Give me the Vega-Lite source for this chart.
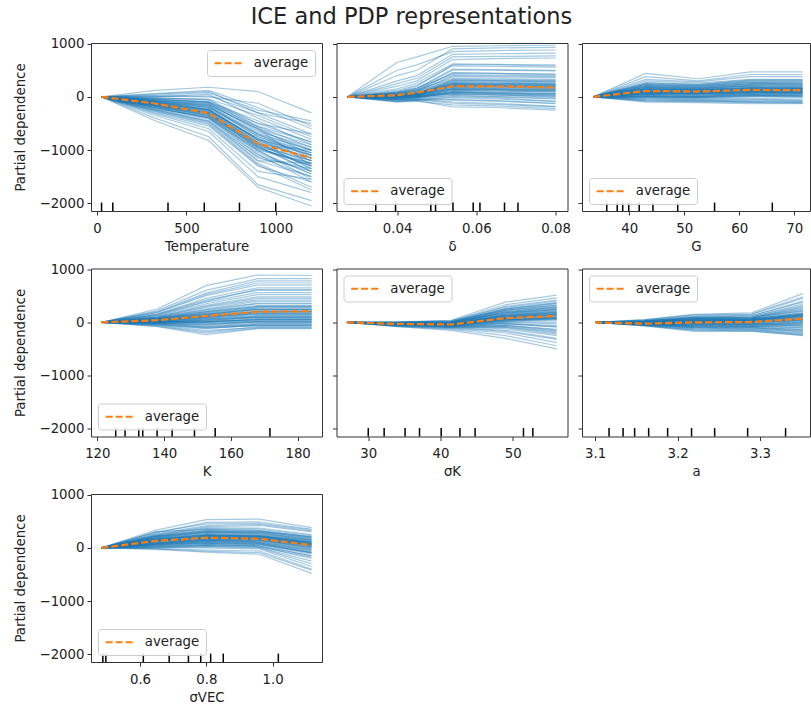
{
"$schema": "https://vega.github.io/schema/vega-lite/v6.json",
"background": "white",
"padding": {"left": 12, "top": 6, "right": 0, "bottom": 5},
"title": {"text": "ICE and PDP representations", "fontSize": 22.5, "font": "DejaVu Sans", "fontWeight": "normal", "anchor": "middle", "color": "#222", "offset": 7.5},
"datasets": {
"ice": [
{"f":"Temperature","x":25,"avg":0,"c1":0,"c2":0,"c3":0,"c4":0,"c5":0,"c6":0,"c7":0,"c8":0,"c9":0,"c10":0,"c11":0,"c12":0,"c13":0,"c14":0,"c15":0,"c16":0,"c17":0,"c18":0,"c19":0,"c20":0,"c21":0,"c22":0,"c23":0,"c24":0,"c25":0,"c26":0,"c27":0,"c28":0,"c29":0,"c30":0,"c31":0,"c32":0,"c33":0,"c34":0,"c35":0,"c36":0,"c37":0,"c38":0,"c39":0,"c40":0,"c41":0,"c42":0,"c43":0,"c44":0,"c45":0,"c46":0,"c47":0,"c48":0,"c49":0,"c50":0,"c51":0,"c52":0,"c53":0,"c54":0,"c55":0,"c56":0,"c57":0,"c58":0,"c59":0,"c60":0},
{"f":"Temperature","x":325,"avg":-125,"c1":-80,"c2":-150,"c3":-50,"c4":-200,"c5":50,"c6":-120,"c7":-300,"c8":-100,"c9":0,"c10":-250,"c11":-180,"c12":-60,"c13":-350,"c14":120,"c15":-140,"c16":-220,"c17":-90,"c18":-30,"c19":-400,"c20":-160,"c21":20,"c22":-110,"c23":-270,"c24":-70,"c25":-190,"c26":-40,"c27":-230,"c28":-130,"c29":-320,"c30":60,"c31":-150,"c32":-85,"c33":-200,"c34":-450,"c35":-20,"c36":-170,"c37":-100,"c38":-260,"c39":30,"c40":-120,"c41":-100,"c42":-140,"c43":-60,"c44":-180,"c45":-20,"c46":-210,"c47":-110,"c48":-160,"c49":-40,"c50":-240,"c51":-90,"c52":-130,"c53":-70,"c54":-200,"c55":-120,"c56":10,"c57":-170,"c58":-280,"c59":-50,"c60":-150},
{"f":"Temperature","x":625,"avg":-310,"c1":-150,"c2":-300,"c3":-100,"c4":-400,"c5":100,"c6":-250,"c7":-550,"c8":-200,"c9":50,"c10":-450,"c11":-350,"c12":-120,"c13":-650,"c14":180,"c15":-280,"c16":-380,"c17":-180,"c18":-60,"c19":-750,"c20":-320,"c21":0,"c22":-230,"c23":-500,"c24":-140,"c25":-360,"c26":-90,"c27":-420,"c28":-260,"c29":-600,"c30":120,"c31":-310,"c32":-170,"c33":-390,"c34":-820,"c35":-40,"c36":-330,"c37":-220,"c38":-480,"c39":80,"c40":-240,"c41":-200,"c42":-290,"c43":-130,"c44":-340,"c45":-50,"c46":-400,"c47":-240,"c48":-310,"c49":-110,"c50":-460,"c51":-190,"c52":-270,"c53":-160,"c54":-370,"c55":-250,"c56":20,"c57":-350,"c58":-520,"c59":-100,"c60":-290},
{"f":"Temperature","x":900,"avg":-880,"c1":-600,"c2":-900,"c3":-500,"c4":-1100,"c5":-300,"c6":-800,"c7":-1300,"c8":-700,"c9":-400,"c10":-1200,"c11":-950,"c12":-650,"c13":-1500,"c14":100,"c15":-850,"c16":-1000,"c17":-750,"c18":-550,"c19":-1650,"c20":-900,"c21":-120,"c22":-820,"c23":-1250,"c24":-600,"c25":-1050,"c26":-450,"c27":-1150,"c28":-780,"c29":-1400,"c30":-200,"c31":-980,"c32":-700,"c33":-1080,"c34":-1700,"c35":-350,"c36":-920,"c37":-800,"c38":-1200,"c39":-250,"c40":-870,"c41":-750,"c42":-880,"c43":-620,"c44":-960,"c45":-500,"c46":-1020,"c47":-820,"c48":-930,"c49":-560,"c50":-1130,"c51":-720,"c52":-850,"c53":-680,"c54":-1000,"c55":-790,"c56":-300,"c57":-940,"c58":-1280,"c59":-580,"c60":-900},
{"f":"Temperature","x":1200,"avg":-1150,"c1":-900,"c2":-1200,"c3":-700,"c4":-1400,"c5":-500,"c6":-1100,"c7":-1600,"c8":-1000,"c9":-800,"c10":-1500,"c11":-1300,"c12":-950,"c13":-1800,"c14":-300,"c15":-1150,"c16":-1250,"c17":-1050,"c18":-850,"c19":-1950,"c20":-1000,"c21":-550,"c22":-1200,"c23":-1700,"c24":-1300,"c25":-1450,"c26":-900,"c27":-1350,"c28":-1100,"c29":-1550,"c30":-600,"c31":-1250,"c32":-1150,"c33":-1600,"c34":-2050,"c35":-750,"c36":-1400,"c37":-1050,"c38":-1250,"c39":-450,"c40":-1350,"c41":-1100,"c42":-1250,"c43":-1000,"c44":-1300,"c45":-850,"c46":-1450,"c47":-1150,"c48":-1200,"c49":-950,"c50":-1500,"c51":-1050,"c52":-1350,"c53":-1000,"c54":-1550,"c55":-1200,"c56":-700,"c57":-1400,"c58":-1750,"c59":-1100,"c60":-1300},
{"f":"δ","x":0.0275,"avg":0,"c1":0,"c2":0,"c3":0,"c4":0,"c5":0,"c6":0,"c7":0,"c8":0,"c9":0,"c10":0,"c11":0,"c12":0,"c13":0,"c14":0,"c15":0,"c16":0,"c17":0,"c18":0,"c19":0,"c20":0,"c21":0,"c22":0,"c23":0,"c24":0,"c25":0,"c26":0,"c27":0,"c28":0,"c29":0,"c30":0,"c31":0,"c32":0,"c33":0,"c34":0,"c35":0,"c36":0,"c37":0,"c38":0,"c39":0,"c40":0,"c41":0,"c42":0,"c43":0,"c44":0,"c45":0,"c46":0,"c47":0,"c48":0,"c49":0,"c50":0,"c51":0,"c52":0,"c53":0,"c54":0,"c55":0,"c56":0,"c57":0,"c58":0,"c59":0,"c60":0},
{"f":"δ","x":0.04,"avg":30,"c1":0,"c2":-50,"c3":400,"c4":20,"c5":-80,"c6":100,"c7":30,"c8":-30,"c9":650,"c10":50,"c11":-60,"c12":10,"c13":200,"c14":-20,"c15":80,"c16":-100,"c17":40,"c18":0,"c19":300,"c20":60,"c21":-40,"c22":20,"c23":120,"c24":-70,"c25":10,"c26":500,"c27":-10,"c28":70,"c29":-90,"c30":30,"c31":150,"c32":-20,"c33":50,"c34":0,"c35":250,"c36":-50,"c37":90,"c38":10,"c39":-30,"c40":40,"c41":10,"c42":-30,"c43":40,"c44":0,"c45":60,"c46":-40,"c47":20,"c48":-10,"c49":70,"c50":30,"c51":-50,"c52":10,"c53":50,"c54":-20,"c55":40,"c56":0,"c57":90,"c58":-60,"c59":20,"c60":30},
{"f":"δ","x":0.045,"avg":80,"c1":50,"c2":-20,"c3":500,"c4":60,"c5":-60,"c6":200,"c7":40,"c8":0,"c9":750,"c10":100,"c11":-50,"c12":30,"c13":300,"c14":10,"c15":150,"c16":-80,"c17":70,"c18":20,"c19":400,"c20":120,"c21":-30,"c22":50,"c23":220,"c24":-60,"c25":40,"c26":600,"c27":20,"c28":130,"c29":-70,"c30":60,"c31":260,"c32":0,"c33":90,"c34":30,"c35":350,"c36":-40,"c37":170,"c38":40,"c39":-10,"c40":80,"c41":40,"c42":-10,"c43":80,"c44":20,"c45":110,"c46":-20,"c47":50,"c48":10,"c49":130,"c50":60,"c51":-40,"c52":30,"c53":100,"c54":0,"c55":70,"c56":20,"c57":160,"c58":-50,"c59":40,"c60":60},
{"f":"δ","x":0.054,"avg":200,"c1":300,"c2":100,"c3":900,"c4":250,"c5":0,"c6":600,"c7":150,"c8":50,"c9":950,"c10":400,"c11":-100,"c12":200,"c13":700,"c14":120,"c15":500,"c16":-150,"c17":280,"c18":80,"c19":800,"c20":450,"c21":20,"c22":180,"c23":580,"c24":-50,"c25":230,"c26":850,"c27":140,"c28":350,"c29":-190,"c30":260,"c31":620,"c32":60,"c33":320,"c34":160,"c35":750,"c36":-20,"c37":420,"c38":200,"c39":90,"c40":220,"c41":180,"c42":60,"c43":300,"c44":120,"c45":380,"c46":30,"c47":220,"c48":100,"c49":450,"c50":250,"c51":-60,"c52":160,"c53":330,"c54":80,"c55":270,"c56":140,"c57":520,"c58":-120,"c59":200,"c60":240},
{"f":"δ","x":0.065,"avg":195,"c1":300,"c2":90,"c3":920,"c4":240,"c5":-20,"c6":600,"c7":140,"c8":30,"c9":960,"c10":390,"c11":-120,"c12":200,"c13":720,"c14":110,"c15":500,"c16":-170,"c17":270,"c18":60,"c19":810,"c20":440,"c21":0,"c22":170,"c23":570,"c24":-70,"c25":220,"c26":870,"c27":130,"c28":340,"c29":-200,"c30":250,"c31":610,"c32":40,"c33":310,"c34":150,"c35":760,"c36":-40,"c37":410,"c38":190,"c39":70,"c40":210,"c41":170,"c42":40,"c43":290,"c44":110,"c45":370,"c46":10,"c47":210,"c48":80,"c49":440,"c50":240,"c51":-80,"c52":150,"c53":320,"c54":60,"c55":260,"c56":130,"c57":510,"c58":-140,"c59":190,"c60":230},
{"f":"δ","x":0.08,"avg":175,"c1":280,"c2":60,"c3":930,"c4":230,"c5":-80,"c6":580,"c7":120,"c8":-10,"c9":970,"c10":380,"c11":-180,"c12":190,"c13":730,"c14":100,"c15":490,"c16":-220,"c17":260,"c18":40,"c19":820,"c20":430,"c21":-40,"c22":160,"c23":560,"c24":-120,"c25":210,"c26":880,"c27":110,"c28":330,"c29":-250,"c30":240,"c31":600,"c32":20,"c33":300,"c34":140,"c35":770,"c36":-90,"c37":400,"c38":170,"c39":50,"c40":200,"c41":150,"c42":10,"c43":280,"c44":90,"c45":360,"c46":-30,"c47":190,"c48":60,"c49":420,"c50":230,"c51":-130,"c52":130,"c53":310,"c54":30,"c55":250,"c56":120,"c57":500,"c58":-190,"c59":180,"c60":210},
{"f":"G","x":33.45,"avg":0,"c1":0,"c2":0,"c3":0,"c4":0,"c5":0,"c6":0,"c7":0,"c8":0,"c9":0,"c10":0,"c11":0,"c12":0,"c13":0,"c14":0,"c15":0,"c16":0,"c17":0,"c18":0,"c19":0,"c20":0,"c21":0,"c22":0,"c23":0,"c24":0,"c25":0,"c26":0,"c27":0,"c28":0,"c29":0,"c30":0,"c31":0,"c32":0,"c33":0,"c34":0,"c35":0,"c36":0,"c37":0,"c38":0,"c39":0,"c40":0,"c41":0,"c42":0,"c43":0,"c44":0,"c45":0,"c46":0,"c47":0,"c48":0,"c49":0,"c50":0,"c51":0,"c52":0,"c53":0,"c54":0,"c55":0,"c56":0,"c57":0,"c58":0,"c59":0,"c60":0},
{"f":"G","x":43,"avg":110,"c1":100,"c2":440,"c3":50,"c4":200,"c5":-50,"c6":150,"c7":0,"c8":300,"c9":80,"c10":-100,"c11":120,"c12":250,"c13":30,"c14":180,"c15":-20,"c16":380,"c17":60,"c18":130,"c19":-70,"c20":220,"c21":10,"c22":160,"c23":90,"c24":270,"c25":-30,"c26":110,"c27":40,"c28":190,"c29":70,"c30":330,"c31":-10,"c32":140,"c33":20,"c34":240,"c35":100,"c36":-60,"c37":170,"c38":60,"c39":120,"c40":210,"c41":80,"c42":150,"c43":20,"c44":200,"c45":-40,"c46":110,"c47":60,"c48":260,"c49":0,"c50":170,"c51":90,"c52":-80,"c53":130,"c54":40,"c55":230,"c56":100,"c57":10,"c58":180,"c59":70,"c60":140},
{"f":"G","x":52.5,"avg":100,"c1":90,"c2":340,"c3":40,"c4":180,"c5":-60,"c6":130,"c7":-10,"c8":260,"c9":70,"c10":-110,"c11":110,"c12":220,"c13":20,"c14":160,"c15":-30,"c16":300,"c17":60,"c18":120,"c19":-80,"c20":200,"c21":0,"c22":140,"c23":80,"c24":240,"c25":-40,"c26":100,"c27":30,"c28":170,"c29":60,"c30":280,"c31":-20,"c32":130,"c33":10,"c34":210,"c35":95,"c36":-70,"c37":150,"c38":50,"c39":110,"c40":190,"c41":70,"c42":130,"c43":10,"c44":180,"c45":-50,"c46":100,"c47":50,"c48":230,"c49":-10,"c50":150,"c51":80,"c52":-90,"c53":120,"c54":30,"c55":200,"c56":90,"c57":0,"c58":160,"c59":60,"c60":125},
{"f":"G","x":62,"avg":130,"c1":120,"c2":470,"c3":80,"c4":250,"c5":-80,"c6":170,"c7":20,"c8":330,"c9":100,"c10":-130,"c11":150,"c12":300,"c13":50,"c14":210,"c15":-30,"c16":420,"c17":90,"c18":160,"c19":-100,"c20":270,"c21":30,"c22":180,"c23":110,"c24":320,"c25":-50,"c26":140,"c27":60,"c28":230,"c29":90,"c30":380,"c31":0,"c32":170,"c33":40,"c34":280,"c35":130,"c36":-90,"c37":200,"c38":70,"c39":140,"c40":250,"c41":100,"c42":180,"c43":40,"c44":240,"c45":-60,"c46":130,"c47":80,"c48":300,"c49":10,"c50":200,"c51":110,"c52":-110,"c53":150,"c54":60,"c55":270,"c56":120,"c57":25,"c58":215,"c59":90,"c60":160},
{"f":"G","x":71.5,"avg":125,"c1":115,"c2":470,"c3":75,"c4":250,"c5":-90,"c6":165,"c7":10,"c8":330,"c9":95,"c10":-130,"c11":145,"c12":300,"c13":40,"c14":205,"c15":-40,"c16":420,"c17":85,"c18":160,"c19":-110,"c20":265,"c21":25,"c22":175,"c23":105,"c24":320,"c25":-60,"c26":130,"c27":55,"c28":225,"c29":80,"c30":380,"c31":-10,"c32":165,"c33":35,"c34":280,"c35":120,"c36":-100,"c37":195,"c38":65,"c39":140,"c40":245,"c41":95,"c42":175,"c43":35,"c44":235,"c45":-70,"c46":125,"c47":75,"c48":300,"c49":5,"c50":195,"c51":105,"c52":-120,"c53":145,"c54":55,"c55":265,"c56":115,"c57":20,"c58":210,"c59":85,"c60":155},
{"f":"K","x":121.2,"avg":0,"c1":0,"c2":0,"c3":0,"c4":0,"c5":0,"c6":0,"c7":0,"c8":0,"c9":0,"c10":0,"c11":0,"c12":0,"c13":0,"c14":0,"c15":0,"c16":0,"c17":0,"c18":0,"c19":0,"c20":0,"c21":0,"c22":0,"c23":0,"c24":0,"c25":0,"c26":0,"c27":0,"c28":0,"c29":0,"c30":0,"c31":0,"c32":0,"c33":0,"c34":0,"c35":0,"c36":0,"c37":0,"c38":0,"c39":0,"c40":0,"c41":0,"c42":0,"c43":0,"c44":0,"c45":0,"c46":0,"c47":0,"c48":0,"c49":0,"c50":0,"c51":0,"c52":0,"c53":0,"c54":0,"c55":0,"c56":0,"c57":0,"c58":0,"c59":0,"c60":0},
{"f":"K","x":138,"avg":40,"c1":50,"c2":250,"c3":-50,"c4":100,"c5":0,"c6":180,"c7":-20,"c8":70,"c9":150,"c10":-80,"c11":30,"c12":200,"c13":10,"c14":120,"c15":-40,"c16":60,"c17":220,"c18":20,"c19":-60,"c20":90,"c21":40,"c22":160,"c23":-10,"c24":80,"c25":0,"c26":130,"c27":-30,"c28":50,"c29":110,"c30":25,"c31":-70,"c32":140,"c33":15,"c34":70,"c35":-15,"c36":190,"c37":35,"c38":-45,"c39":100,"c40":5,"c41":30,"c42":0,"c43":60,"c44":-20,"c45":40,"c46":10,"c47":80,"c48":-40,"c49":20,"c50":50,"c51":0,"c52":70,"c53":-30,"c54":30,"c55":15,"c56":90,"c57":-10,"c58":45,"c59":5,"c60":60},
{"f":"K","x":152.5,"avg":120,"c1":150,"c2":690,"c3":-150,"c4":300,"c5":50,"c6":500,"c7":-50,"c8":200,"c9":450,"c10":-230,"c11":100,"c12":550,"c13":20,"c14":350,"c15":-100,"c16":180,"c17":600,"c18":80,"c19":-180,"c20":250,"c21":120,"c22":420,"c23":-30,"c24":220,"c25":0,"c26":380,"c27":-80,"c28":140,"c29":320,"c30":60,"c31":-200,"c32":400,"c33":40,"c34":190,"c35":-40,"c36":520,"c37":110,"c38":-120,"c39":280,"c40":10,"c41":80,"c42":20,"c43":150,"c44":-60,"c45":100,"c46":30,"c47":200,"c48":-110,"c49":60,"c50":130,"c51":0,"c52":170,"c53":-90,"c54":90,"c55":40,"c56":240,"c57":-20,"c58":120,"c59":10,"c60":160},
{"f":"K","x":168,"avg":200,"c1":250,"c2":890,"c3":-100,"c4":450,"c5":100,"c6":700,"c7":0,"c8":320,"c9":650,"c10":-120,"c11":180,"c12":780,"c13":50,"c14":520,"c15":-60,"c16":280,"c17":820,"c18":130,"c19":-80,"c20":400,"c21":200,"c22":600,"c23":20,"c24":350,"c25":60,"c26":560,"c27":-30,"c28":230,"c29":480,"c30":110,"c31":-110,"c32":620,"c33":90,"c34":300,"c35":10,"c36":740,"c37":160,"c38":-50,"c39":420,"c40":40,"c41":150,"c42":60,"c43":250,"c44":-20,"c45":180,"c46":80,"c47":300,"c48":-60,"c49":120,"c50":210,"c51":30,"c52":270,"c53":-40,"c54":160,"c55":100,"c56":360,"c57":10,"c58":200,"c59":50,"c60":240},
{"f":"K","x":184.2,"avg":210,"c1":250,"c2":880,"c3":-100,"c4":450,"c5":100,"c6":700,"c7":0,"c8":320,"c9":650,"c10":-120,"c11":180,"c12":780,"c13":50,"c14":520,"c15":-60,"c16":280,"c17":820,"c18":130,"c19":-80,"c20":400,"c21":200,"c22":600,"c23":20,"c24":350,"c25":60,"c26":560,"c27":-30,"c28":230,"c29":480,"c30":110,"c31":-110,"c32":620,"c33":90,"c34":300,"c35":10,"c36":740,"c37":160,"c38":-50,"c39":420,"c40":40,"c41":150,"c42":60,"c43":250,"c44":-20,"c45":180,"c46":80,"c47":300,"c48":-60,"c49":120,"c50":210,"c51":30,"c52":270,"c53":-40,"c54":160,"c55":100,"c56":360,"c57":10,"c58":200,"c59":50,"c60":240},
{"f":"σK","x":27.05,"avg":0,"c1":0,"c2":0,"c3":0,"c4":0,"c5":0,"c6":0,"c7":0,"c8":0,"c9":0,"c10":0,"c11":0,"c12":0,"c13":0,"c14":0,"c15":0,"c16":0,"c17":0,"c18":0,"c19":0,"c20":0,"c21":0,"c22":0,"c23":0,"c24":0,"c25":0,"c26":0,"c27":0,"c28":0,"c29":0,"c30":0,"c31":0,"c32":0,"c33":0,"c34":0,"c35":0,"c36":0,"c37":0,"c38":0,"c39":0,"c40":0,"c41":0,"c42":0,"c43":0,"c44":0,"c45":0,"c46":0,"c47":0,"c48":0,"c49":0,"c50":0,"c51":0,"c52":0,"c53":0,"c54":0,"c55":0,"c56":0,"c57":0,"c58":0,"c59":0,"c60":0},
{"f":"σK","x":34,"avg":-30,"c1":-20,"c2":-40,"c3":0,"c4":-60,"c5":-10,"c6":-30,"c7":-80,"c8":-20,"c9":10,"c10":-50,"c11":-30,"c12":-15,"c13":-70,"c14":-25,"c15":0,"c16":-45,"c17":-35,"c18":-5,"c19":-55,"c20":-20,"c21":-40,"c22":5,"c23":-65,"c24":-30,"c25":-10,"c26":-50,"c27":-25,"c28":-35,"c29":-15,"c30":-60,"c31":-20,"c32":-45,"c33":0,"c34":-30,"c35":-75,"c36":-10,"c37":-40,"c38":-20,"c39":-50,"c40":-5,"c41":-20,"c42":-30,"c43":-10,"c44":-40,"c45":-25,"c46":-15,"c47":-35,"c48":-20,"c49":-45,"c50":-10,"c51":-30,"c52":-25,"c53":-50,"c54":-15,"c55":-35,"c56":-20,"c57":-5,"c58":-40,"c59":-25,"c60":-30},
{"f":"σK","x":41.5,"avg":-40,"c1":-30,"c2":-60,"c3":20,"c4":-100,"c5":0,"c6":-50,"c7":-150,"c8":-20,"c9":40,"c10":-80,"c11":-40,"c12":-10,"c13":-120,"c14":-35,"c15":30,"c16":-70,"c17":-50,"c18":10,"c19":-90,"c20":-25,"c21":-55,"c22":30,"c23":-110,"c24":-45,"c25":0,"c26":-75,"c27":-30,"c28":-60,"c29":-5,"c30":-95,"c31":-30,"c32":-65,"c33":15,"c34":-40,"c35":-130,"c36":-10,"c37":-50,"c38":-20,"c39":-85,"c40":5,"c41":-30,"c42":-40,"c43":0,"c44":-60,"c45":-30,"c46":-10,"c47":-50,"c48":-20,"c49":-70,"c50":5,"c51":-45,"c52":-35,"c53":-80,"c54":-10,"c55":-55,"c56":-25,"c57":10,"c58":-60,"c59":-30,"c60":-40},
{"f":"σK","x":49,"avg":80,"c1":100,"c2":50,"c3":300,"c4":-150,"c5":200,"c6":20,"c7":-300,"c8":150,"c9":380,"c10":-80,"c11":80,"c12":180,"c13":-200,"c14":110,"c15":330,"c16":-20,"c17":60,"c18":250,"c19":-120,"c20":140,"c21":30,"c22":280,"c23":-170,"c24":90,"c25":220,"c26":-50,"c27":130,"c28":40,"c29":190,"c30":-100,"c31":120,"c32":0,"c33":260,"c34":70,"c35":-250,"c36":160,"c37":50,"c38":100,"c39":-60,"c40":230,"c41":90,"c42":40,"c43":170,"c44":-30,"c45":120,"c46":200,"c47":20,"c48":140,"c49":-60,"c50":230,"c51":60,"c52":100,"c53":-90,"c54":180,"c55":10,"c56":130,"c57":250,"c58":-20,"c59":80,"c60":50},
{"f":"σK","x":56.1,"avg":120,"c1":150,"c2":80,"c3":420,"c4":-300,"c5":280,"c6":50,"c7":-500,"c8":220,"c9":510,"c10":-180,"c11":130,"c12":250,"c13":-380,"c14":170,"c15":460,"c16":-90,"c17":100,"c18":350,"c19":-250,"c20":200,"c21":60,"c22":400,"c23":-320,"c24":140,"c25":300,"c26":-130,"c27":190,"c28":70,"c29":270,"c30":-220,"c31":180,"c32":-30,"c33":370,"c34":110,"c35":-440,"c36":240,"c37":90,"c38":160,"c39":-160,"c40":320,"c41":140,"c42":70,"c43":240,"c44":-80,"c45":180,"c46":290,"c47":30,"c48":210,"c49":-140,"c50":330,"c51":100,"c52":150,"c53":-200,"c54":260,"c55":0,"c56":190,"c57":360,"c58":-60,"c59":120,"c60":80},
{"f":"a","x":3.1,"avg":0,"c1":0,"c2":0,"c3":0,"c4":0,"c5":0,"c6":0,"c7":0,"c8":0,"c9":0,"c10":0,"c11":0,"c12":0,"c13":0,"c14":0,"c15":0,"c16":0,"c17":0,"c18":0,"c19":0,"c20":0,"c21":0,"c22":0,"c23":0,"c24":0,"c25":0,"c26":0,"c27":0,"c28":0,"c29":0,"c30":0,"c31":0,"c32":0,"c33":0,"c34":0,"c35":0,"c36":0,"c37":0,"c38":0,"c39":0,"c40":0,"c41":0,"c42":0,"c43":0,"c44":0,"c45":0,"c46":0,"c47":0,"c48":0,"c49":0,"c50":0,"c51":0,"c52":0,"c53":0,"c54":0,"c55":0,"c56":0,"c57":0,"c58":0,"c59":0,"c60":0},
{"f":"a","x":3.16,"avg":-25,"c1":-20,"c2":50,"c3":-60,"c4":10,"c5":-40,"c6":30,"c7":-10,"c8":-50,"c9":20,"c10":-30,"c11":0,"c12":-45,"c13":40,"c14":-15,"c15":-35,"c16":15,"c17":-55,"c18":5,"c19":-25,"c20":25,"c21":-65,"c22":-5,"c23":35,"c24":-40,"c25":10,"c26":-20,"c27":45,"c28":-50,"c29":0,"c30":-30,"c31":20,"c32":-10,"c33":-45,"c34":15,"c35":-35,"c36":30,"c37":-60,"c38":5,"c39":-20,"c40":10,"c41":-10,"c42":-30,"c43":20,"c44":-40,"c45":0,"c46":-20,"c47":10,"c48":-50,"c49":15,"c50":-25,"c51":5,"c52":-35,"c53":25,"c54":-15,"c55":-45,"c56":10,"c57":-5,"c58":-30,"c59":0,"c60":-20},
{"f":"a","x":3.22,"avg":0,"c1":0,"c2":150,"c3":-150,"c4":60,"c5":-80,"c6":100,"c7":20,"c8":-120,"c9":80,"c10":-40,"c11":40,"c12":-100,"c13":120,"c14":10,"c15":-60,"c16":70,"c17":-130,"c18":30,"c19":-20,"c20":90,"c21":-170,"c22":15,"c23":110,"c24":-70,"c25":50,"c26":-10,"c27":140,"c28":-110,"c29":25,"c30":-50,"c31":75,"c32":5,"c33":-90,"c34":55,"c35":-30,"c36":95,"c37":-140,"c38":35,"c39":-35,"c40":45,"c41":10,"c42":-40,"c43":70,"c44":-70,"c45":30,"c46":-20,"c47":50,"c48":-100,"c49":40,"c50":-30,"c51":35,"c52":-60,"c53":80,"c54":0,"c55":-85,"c56":45,"c57":20,"c58":-50,"c59":25,"c60":-10},
{"f":"a","x":3.29,"avg":5,"c1":10,"c2":180,"c3":-160,"c4":70,"c5":-80,"c6":120,"c7":30,"c8":-130,"c9":90,"c10":-40,"c11":50,"c12":-110,"c13":150,"c14":20,"c15":-60,"c16":80,"c17":-140,"c18":40,"c19":-10,"c20":100,"c21":-170,"c22":25,"c23":130,"c24":-70,"c25":60,"c26":0,"c27":160,"c28":-120,"c29":35,"c30":-45,"c31":85,"c32":15,"c33":-95,"c34":65,"c35":-25,"c36":110,"c37":-150,"c38":45,"c39":-30,"c40":55,"c41":20,"c42":-35,"c43":80,"c44":-75,"c45":40,"c46":-15,"c47":60,"c48":-105,"c49":50,"c50":-25,"c51":45,"c52":-60,"c53":95,"c54":10,"c55":-90,"c56":55,"c57":30,"c58":-45,"c59":35,"c60":0},
{"f":"a","x":3.352,"avg":70,"c1":100,"c2":540,"c3":-250,"c4":250,"c5":-50,"c6":400,"c7":150,"c8":-200,"c9":300,"c10":0,"c11":200,"c12":-150,"c13":450,"c14":80,"c15":-20,"c16":280,"c17":-230,"c18":120,"c19":50,"c20":350,"c21":-240,"c22":60,"c23":380,"c24":-100,"c25":180,"c26":30,"c27":480,"c28":-180,"c29":130,"c30":-60,"c31":220,"c32":40,"c33":-130,"c34":160,"c35":10,"c36":320,"c37":-210,"c38":110,"c39":-40,"c40":140,"c41":90,"c42":-20,"c43":220,"c44":-110,"c45":130,"c46":30,"c47":170,"c48":-170,"c49":150,"c50":10,"c51":120,"c52":-80,"c53":260,"c54":60,"c55":-140,"c56":160,"c57":100,"c58":-50,"c59":110,"c60":50},
{"f":"σVEC","x":0.484,"avg":0,"c1":0,"c2":0,"c3":0,"c4":0,"c5":0,"c6":0,"c7":0,"c8":0,"c9":0,"c10":0,"c11":0,"c12":0,"c13":0,"c14":0,"c15":0,"c16":0,"c17":0,"c18":0,"c19":0,"c20":0,"c21":0,"c22":0,"c23":0,"c24":0,"c25":0,"c26":0,"c27":0,"c28":0,"c29":0,"c30":0,"c31":0,"c32":0,"c33":0,"c34":0,"c35":0,"c36":0,"c37":0,"c38":0,"c39":0,"c40":0,"c41":0,"c42":0,"c43":0,"c44":0,"c45":0,"c46":0,"c47":0,"c48":0,"c49":0,"c50":0,"c51":0,"c52":0,"c53":0,"c54":0,"c55":0,"c56":0,"c57":0,"c58":0,"c59":0,"c60":0},
{"f":"σVEC","x":0.645,"avg":130,"c1":100,"c2":330,"c3":-30,"c4":200,"c5":50,"c6":250,"c7":0,"c8":150,"c9":280,"c10":20,"c11":120,"c12":300,"c13":-10,"c14":180,"c15":70,"c16":230,"c17":30,"c18":140,"c19":90,"c20":260,"c21":10,"c22":160,"c23":60,"c24":210,"c25":40,"c26":130,"c27":290,"c28":80,"c29":170,"c30":-20,"c31":110,"c32":220,"c33":55,"c34":190,"c35":25,"c36":240,"c37":120,"c38":75,"c39":150,"c40":15,"c41":120,"c42":160,"c43":80,"c44":200,"c45":140,"c46":60,"c47":180,"c48":100,"c49":220,"c50":130,"c51":40,"c52":170,"c53":90,"c54":150,"c55":190,"c56":110,"c57":70,"c58":210,"c59":130,"c60":160},
{"f":"σVEC","x":0.8,"avg":190,"c1":150,"c2":530,"c3":-80,"c4":300,"c5":100,"c6":400,"c7":20,"c8":220,"c9":480,"c10":50,"c11":180,"c12":350,"c13":-40,"c14":260,"c15":120,"c16":380,"c17":60,"c18":200,"c19":170,"c20":420,"c21":0,"c22":240,"c23":110,"c24":320,"c25":80,"c26":190,"c27":450,"c28":140,"c29":250,"c30":-60,"c31":160,"c32":340,"c33":90,"c34":280,"c35":30,"c36":360,"c37":210,"c38":130,"c39":230,"c40":40,"c41":190,"c42":240,"c43":130,"c44":300,"c45":200,"c46":90,"c47":270,"c48":160,"c49":330,"c50":180,"c51":60,"c52":250,"c53":140,"c54":220,"c55":290,"c56":170,"c57":110,"c58":310,"c59":200,"c60":230},
{"f":"σVEC","x":0.96,"avg":170,"c1":140,"c2":540,"c3":-120,"c4":280,"c5":80,"c6":420,"c7":0,"c8":200,"c9":490,"c10":30,"c11":170,"c12":330,"c13":-60,"c14":240,"c15":100,"c16":370,"c17":40,"c18":190,"c19":150,"c20":440,"c21":-20,"c22":220,"c23":90,"c24":300,"c25":60,"c26":180,"c27":460,"c28":120,"c29":230,"c30":-90,"c31":150,"c32":320,"c33":70,"c34":260,"c35":10,"c36":350,"c37":200,"c38":110,"c39":210,"c40":20,"c41":180,"c42":220,"c43":110,"c44":280,"c45":190,"c46":70,"c47":250,"c48":150,"c49":310,"c50":170,"c51":40,"c52":230,"c53":130,"c54":210,"c55":270,"c56":160,"c57":90,"c58":300,"c59":180,"c60":220},
{"f":"σVEC","x":1.117,"avg":50,"c1":0,"c2":380,"c3":-480,"c4":150,"c5":-100,"c6":300,"c7":-300,"c8":80,"c9":350,"c10":-200,"c11":50,"c12":200,"c13":-400,"c14":120,"c15":-50,"c16":250,"c17":-150,"c18":60,"c19":20,"c20":320,"c21":-350,"c22":100,"c23":-80,"c24":180,"c25":-120,"c26":40,"c27":340,"c28":-20,"c29":110,"c30":-420,"c31":30,"c32":200,"c33":-90,"c34":140,"c35":-250,"c36":230,"c37":90,"c38":-40,"c39":70,"c40":-180,"c41":60,"c42":110,"c43":-30,"c44":170,"c45":80,"c46":-90,"c47":140,"c48":20,"c49":210,"c50":50,"c51":-150,"c52":120,"c53":0,"c54":90,"c55":160,"c56":40,"c57":-60,"c58":190,"c59":70,"c60":100},
{"f":"Temperature","r":25},{"f":"Temperature","r":88},{"f":"Temperature","r":397},{"f":"Temperature","r":600},{"f":"Temperature","r":797},{"f":"Temperature","r":1000},
{"f":"δ","r":0.0346},{"f":"δ","r":0.0396},{"f":"δ","r":0.0485},{"f":"δ","r":0.0497},{"f":"δ","r":0.0541},{"f":"δ","r":0.0592},{"f":"δ","r":0.0609},{"f":"δ","r":0.0671},{"f":"δ","r":0.0705},
{"f":"G","r":35.9},{"f":"G","r":37.8},{"f":"G","r":38.8},{"f":"G","r":39.9},{"f":"G","r":41.8},{"f":"G","r":44.3},{"f":"G","r":48.8},{"f":"G","r":55.5},{"f":"G","r":66.0},
{"f":"K","r":125.5},{"f":"K","r":128.3},{"f":"K","r":132.4},{"f":"K","r":133.6},{"f":"K","r":137.9},{"f":"K","r":142.4},{"f":"K","r":149.1},{"f":"K","r":155.3},{"f":"K","r":171.7},
{"f":"σK","r":30.0},{"f":"σK","r":32.2},{"f":"σK","r":35.1},{"f":"σK","r":37.1},{"f":"σK","r":40.1},{"f":"σK","r":42.7},{"f":"σK","r":44.8},{"f":"σK","r":51.5},{"f":"σK","r":52.8},
{"f":"a","r":3.117},{"f":"a","r":3.134},{"f":"a","r":3.148},{"f":"a","r":3.165},{"f":"a","r":3.188},{"f":"a","r":3.217},{"f":"a","r":3.245},{"f":"a","r":3.285},{"f":"a","r":3.331},
{"f":"σVEC","r":0.488},{"f":"σVEC","r":0.497},{"f":"σVEC","r":0.61},{"f":"σVEC","r":0.688},{"f":"σVEC","r":0.746},{"f":"σVEC","r":0.783},{"f":"σVEC","r":0.813},{"f":"σVEC","r":0.851},{"f":"σVEC","r":1.017}
]
},
"data": {"name": "ice"},
"transform": [{"fold": ["c1","c2","c3","c4","c5","c6","c7","c8","c9","c10","c11","c12","c13","c14","c15","c16","c17","c18","c19","c20","c21","c22","c23","c24","c25","c26","c27","c28","c29","c30","c31","c32","c33","c34","c35","c36","c37","c38","c39","c40","c41","c42","c43","c44","c45","c46","c47","c48","c49","c50","c51","c52","c53","c54","c55","c56","c57","c58","c59","c60","avg"], "as": ["curve","pd"]}],
"columns": 3,
"bounds": "flush",
"spacing": {"row": 57.5, "column": 14.5},
"concat": [
{"width": 231, "height": 168,
 "transform": [{"filter": {"field": "f", "equal": "Temperature"}}],
 "encoding": {"x": {"field": "x", "type": "quantitative", "scale": {"domain": [-34, 1259], "nice": false, "zero": false}, "axis": {"title": "Temperature", "values": [0, 500, 1000], "format": "d"}}},
 "layer": [
  {"transform": [{"filter": "datum.curve != 'avg' && isValid(datum.x)"}], "mark": {"type": "line", "color": "#1f77b4", "opacity": 0.4, "strokeWidth": 1.2}, "encoding": {"y": {"field": "pd", "type": "quantitative", "scale": {"domain": [-2145, 1012], "nice": false, "zero": false}, "axis": {"title": "Partial dependence", "values": [-2000, -1000, 0, 1000], "format": "d"}}, "detail": {"field": "curve"}}},
  {"transform": [{"filter": "datum.curve == 'avg' && isValid(datum.x)"}], "mark": {"type": "line", "strokeDash": [7, 3], "strokeWidth": 2.2}, "encoding": {"y": {"field": "pd", "type": "quantitative", "axis": {"title": "Partial dependence", "values": [-2000, -1000, 0, 1000], "format": "d"}}, "color": {"datum": "average", "type": "nominal", "scale": {"range": ["#ff7f0e"]}, "legend": {"title": null, "orient": "top-right"}}}},
  {"transform": [{"filter": "datum.curve == 'c1' && isValid(datum.r)"}], "mark": {"type": "rule", "color": "#000", "strokeWidth": 1.5}, "encoding": {"x": {"field": "r", "type": "quantitative"}, "y": {"datum": -2145, "type": "quantitative"}, "y2": {"datum": -1987}}}
 ]},
{"width": 231, "height": 168,
 "transform": [{"filter": {"field": "f", "equal": "δ"}}],
 "encoding": {"x": {"field": "x", "type": "quantitative", "scale": {"domain": [0.0247, 0.083], "nice": false, "zero": false}, "axis": {"title": "δ", "values": [0.04, 0.06, 0.08], "format": ".2f"}}},
 "layer": [
  {"transform": [{"filter": "datum.curve != 'avg' && isValid(datum.x)"}], "mark": {"type": "line", "color": "#1f77b4", "opacity": 0.4, "strokeWidth": 1.2}, "encoding": {"y": {"field": "pd", "type": "quantitative", "scale": {"domain": [-2145, 1012], "nice": false, "zero": false}, "axis": {"title": null, "labels": false, "values": [-2000, -1000, 0, 1000]}}, "detail": {"field": "curve"}}},
  {"transform": [{"filter": "datum.curve == 'avg' && isValid(datum.x)"}], "mark": {"type": "line", "strokeDash": [7, 3], "strokeWidth": 2.2}, "encoding": {"y": {"field": "pd", "type": "quantitative", "axis": {"title": null, "labels": false, "values": [-2000, -1000, 0, 1000]}}, "color": {"datum": "average", "type": "nominal", "scale": {"range": ["#ff7f0e"]}, "legend": {"title": null, "orient": "bottom-left"}}}},
  {"transform": [{"filter": "datum.curve == 'c1' && isValid(datum.r)"}], "mark": {"type": "rule", "color": "#000", "strokeWidth": 1.5}, "encoding": {"x": {"field": "r", "type": "quantitative"}, "y": {"datum": -2145, "type": "quantitative"}, "y2": {"datum": -1987}}}
 ]},
{"width": 228, "height": 168,
 "transform": [{"filter": {"field": "f", "equal": "G"}}],
 "encoding": {"x": {"field": "x", "type": "quantitative", "scale": {"domain": [31.4, 72.85], "nice": false, "zero": false}, "axis": {"title": "G", "values": [40, 50, 60, 70], "format": "d"}}},
 "layer": [
  {"transform": [{"filter": "datum.curve != 'avg' && isValid(datum.x)"}], "mark": {"type": "line", "color": "#1f77b4", "opacity": 0.4, "strokeWidth": 1.2}, "encoding": {"y": {"field": "pd", "type": "quantitative", "scale": {"domain": [-2145, 1012], "nice": false, "zero": false}, "axis": {"title": null, "labels": false, "values": [-2000, -1000, 0, 1000]}}, "detail": {"field": "curve"}}},
  {"transform": [{"filter": "datum.curve == 'avg' && isValid(datum.x)"}], "mark": {"type": "line", "strokeDash": [7, 3], "strokeWidth": 2.2}, "encoding": {"y": {"field": "pd", "type": "quantitative", "axis": {"title": null, "labels": false, "values": [-2000, -1000, 0, 1000]}}, "color": {"datum": "average", "type": "nominal", "scale": {"range": ["#ff7f0e"]}, "legend": {"title": null, "orient": "bottom-left"}}}},
  {"transform": [{"filter": "datum.curve == 'c1' && isValid(datum.r)"}], "mark": {"type": "rule", "color": "#000", "strokeWidth": 1.5}, "encoding": {"x": {"field": "r", "type": "quantitative"}, "y": {"datum": -2145, "type": "quantitative"}, "y2": {"datum": -1987}}}
 ]},
{"width": 231, "height": 168,
 "transform": [{"filter": {"field": "f", "equal": "K"}}],
 "encoding": {"x": {"field": "x", "type": "quantitative", "scale": {"domain": [118.1, 187.3], "nice": false, "zero": false}, "axis": {"title": "K", "values": [120, 140, 160, 180], "format": "d"}}},
 "layer": [
  {"transform": [{"filter": "datum.curve != 'avg' && isValid(datum.x)"}], "mark": {"type": "line", "color": "#1f77b4", "opacity": 0.4, "strokeWidth": 1.2}, "encoding": {"y": {"field": "pd", "type": "quantitative", "scale": {"domain": [-2145, 1012], "nice": false, "zero": false}, "axis": {"title": "Partial dependence", "values": [-2000, -1000, 0, 1000], "format": "d"}}, "detail": {"field": "curve"}}},
  {"transform": [{"filter": "datum.curve == 'avg' && isValid(datum.x)"}], "mark": {"type": "line", "strokeDash": [7, 3], "strokeWidth": 2.2}, "encoding": {"y": {"field": "pd", "type": "quantitative", "axis": {"title": "Partial dependence", "values": [-2000, -1000, 0, 1000], "format": "d"}}, "color": {"datum": "average", "type": "nominal", "scale": {"range": ["#ff7f0e"]}, "legend": {"title": null, "orient": "bottom-left"}}}},
  {"transform": [{"filter": "datum.curve == 'c1' && isValid(datum.r)"}], "mark": {"type": "rule", "color": "#000", "strokeWidth": 1.5}, "encoding": {"x": {"field": "r", "type": "quantitative"}, "y": {"datum": -2145, "type": "quantitative"}, "y2": {"datum": -1987}}}
 ]},
{"width": 231, "height": 168,
 "transform": [{"filter": {"field": "f", "equal": "σK"}}],
 "encoding": {"x": {"field": "x", "type": "quantitative", "scale": {"domain": [25.6, 57.6], "nice": false, "zero": false}, "axis": {"title": "σK", "values": [30, 40, 50], "format": "d"}}},
 "layer": [
  {"transform": [{"filter": "datum.curve != 'avg' && isValid(datum.x)"}], "mark": {"type": "line", "color": "#1f77b4", "opacity": 0.4, "strokeWidth": 1.2}, "encoding": {"y": {"field": "pd", "type": "quantitative", "scale": {"domain": [-2145, 1012], "nice": false, "zero": false}, "axis": {"title": null, "labels": false, "values": [-2000, -1000, 0, 1000]}}, "detail": {"field": "curve"}}},
  {"transform": [{"filter": "datum.curve == 'avg' && isValid(datum.x)"}], "mark": {"type": "line", "strokeDash": [7, 3], "strokeWidth": 2.2}, "encoding": {"y": {"field": "pd", "type": "quantitative", "axis": {"title": null, "labels": false, "values": [-2000, -1000, 0, 1000]}}, "color": {"datum": "average", "type": "nominal", "scale": {"range": ["#ff7f0e"]}, "legend": {"title": null, "orient": "top-left"}}}},
  {"transform": [{"filter": "datum.curve == 'c1' && isValid(datum.r)"}], "mark": {"type": "rule", "color": "#000", "strokeWidth": 1.5}, "encoding": {"x": {"field": "r", "type": "quantitative"}, "y": {"datum": -2145, "type": "quantitative"}, "y2": {"datum": -1987}}}
 ]},
{"width": 228, "height": 168,
 "transform": [{"filter": {"field": "f", "equal": "a"}}],
 "encoding": {"x": {"field": "x", "type": "quantitative", "scale": {"domain": [3.0842, 3.3606], "nice": false, "zero": false}, "axis": {"title": "a", "values": [3.1, 3.2, 3.3], "format": ".1f"}}},
 "layer": [
  {"transform": [{"filter": "datum.curve != 'avg' && isValid(datum.x)"}], "mark": {"type": "line", "color": "#1f77b4", "opacity": 0.4, "strokeWidth": 1.2}, "encoding": {"y": {"field": "pd", "type": "quantitative", "scale": {"domain": [-2145, 1012], "nice": false, "zero": false}, "axis": {"title": null, "labels": false, "values": [-2000, -1000, 0, 1000]}}, "detail": {"field": "curve"}}},
  {"transform": [{"filter": "datum.curve == 'avg' && isValid(datum.x)"}], "mark": {"type": "line", "strokeDash": [7, 3], "strokeWidth": 2.2}, "encoding": {"y": {"field": "pd", "type": "quantitative", "axis": {"title": null, "labels": false, "values": [-2000, -1000, 0, 1000]}}, "color": {"datum": "average", "type": "nominal", "scale": {"range": ["#ff7f0e"]}, "legend": {"title": null, "orient": "top-left"}}}},
  {"transform": [{"filter": "datum.curve == 'c1' && isValid(datum.r)"}], "mark": {"type": "rule", "color": "#000", "strokeWidth": 1.5}, "encoding": {"x": {"field": "r", "type": "quantitative"}, "y": {"datum": -2145, "type": "quantitative"}, "y2": {"datum": -1987}}}
 ]},
{"width": 231, "height": 168,
 "transform": [{"filter": {"field": "f", "equal": "σVEC"}}],
 "encoding": {"x": {"field": "x", "type": "quantitative", "scale": {"domain": [0.4523, 1.1486], "nice": false, "zero": false}, "axis": {"title": "σVEC", "values": [0.6, 0.8, 1.0], "format": ".1f"}}},
 "layer": [
  {"transform": [{"filter": "datum.curve != 'avg' && isValid(datum.x)"}], "mark": {"type": "line", "color": "#1f77b4", "opacity": 0.4, "strokeWidth": 1.2}, "encoding": {"y": {"field": "pd", "type": "quantitative", "scale": {"domain": [-2145, 1012], "nice": false, "zero": false}, "axis": {"title": "Partial dependence", "values": [-2000, -1000, 0, 1000], "format": "d"}}, "detail": {"field": "curve"}}},
  {"transform": [{"filter": "datum.curve == 'avg' && isValid(datum.x)"}], "mark": {"type": "line", "strokeDash": [7, 3], "strokeWidth": 2.2}, "encoding": {"y": {"field": "pd", "type": "quantitative", "axis": {"title": "Partial dependence", "values": [-2000, -1000, 0, 1000], "format": "d"}}, "color": {"datum": "average", "type": "nominal", "scale": {"range": ["#ff7f0e"]}, "legend": {"title": null, "orient": "bottom-left"}}}},
  {"transform": [{"filter": "datum.curve == 'c1' && isValid(datum.r)"}], "mark": {"type": "rule", "color": "#000", "strokeWidth": 1.5}, "encoding": {"x": {"field": "r", "type": "quantitative"}, "y": {"datum": -2145, "type": "quantitative"}, "y2": {"datum": -1987}}}
 ]}
],
"config": {
 "font": "DejaVu Sans",
 "view": {"stroke": "#333", "strokeWidth": 1},
 "axis": {"labelFont": "DejaVu Sans", "labelFontSize": 13.3, "labelColor": "#222", "titleFont": "DejaVu Sans", "titleFontSize": 13.3, "titleFontWeight": "normal", "titleColor": "#222", "tickColor": "#333", "tickSize": 4, "tickWidth": 1, "domain": false, "grid": false},
 "axisX": {"labelPadding": 6, "titlePadding": 5, "labelFlush": false},
 "axisY": {"labelPadding": 3, "titlePadding": 12},
 "legend": {"labelFont": "DejaVu Sans", "labelFontSize": 13.3, "labelColor": "#222", "symbolType": "M-2.7,0H2.7", "symbolDash": [7, 3], "symbolStrokeWidth": 2, "symbolSize": 100, "symbolOffset": 8, "padding": 6.5, "strokeColor": "#cccccc", "fillColor": "rgba(255,255,255,0.8)", "cornerRadius": 3, "offset": 7, "labelOffset": 19}
}
}
